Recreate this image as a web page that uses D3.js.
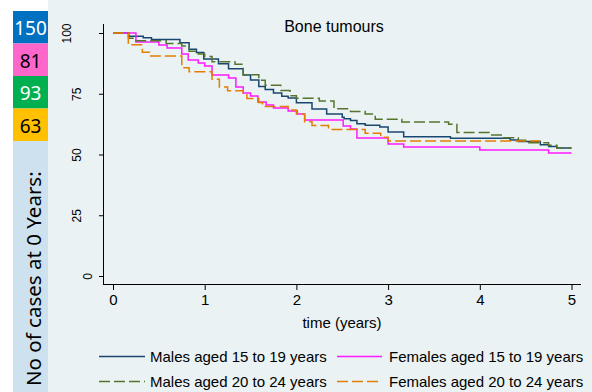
<!DOCTYPE html>
<html>
<head>
<meta charset="utf-8">
<script src="https://cdn.jsdelivr.net/npm/d3@7"></script>
<style>
  body { margin: 0; background: #fff; }
  svg { display: block; }
  text { font-family: "Liberation Sans", Arial, sans-serif; fill: #000; }
  .side { font-family: "Noto Sans", sans-serif; }
</style>
</head>
<body>
<div id="chart"></div>
<script>
// ** data (time in years, survival in %)
const maleYoungT = [0, 0.17, 0.33, 0.42, 0.73, 0.83, 0.91, 0.99, 1.15, 1.26, 1.42, 1.50, 1.59, 1.66, 1.75, 1.84, 1.91, 2.00, 2.17, 2.33, 2.50, 2.52, 2.59, 2.66, 2.75, 2.91, 3.00, 3.17, 3.68, 4.33, 4.42, 4.66, 4.75, 4.84, 5.00];
const maleYoungS = [100, 98.7, 98.0, 97.3, 96.0, 93.3, 92.0, 89.3, 87.3, 85.3, 82.7, 80.7, 78.0, 76.7, 75.3, 74.0, 73.3, 71.3, 68.7, 66.7, 65.3, 64.7, 64.0, 62.7, 62.0, 61.3, 59.3, 57.3, 56.7, 56.0, 55.3, 54.0, 53.3, 52.7, 52.7];

const femaleYoungT = [0, 0.25, 0.50, 0.59, 0.75, 0.82, 0.93, 1.00, 1.08, 1.26, 1.34, 1.42, 1.50, 1.58, 1.67, 1.75, 1.91, 2.01, 2.09, 2.51, 2.59, 2.66, 3.00, 3.17, 4.00, 4.75, 5.00];
const femaleYoungS = [100, 96.3, 95.1, 93.8, 91.4, 88.9, 87.7, 86.4, 82.7, 81.5, 77.8, 75.3, 74.1, 71.6, 70.4, 69.1, 67.9, 66.7, 64.2, 61.7, 60.5, 56.8, 54.3, 53.1, 51.9, 50.6, 50.6];

const maleOldT = [0, 0.17, 0.25, 0.58, 0.75, 0.83, 0.93, 1.00, 1.08, 1.33, 1.42, 1.59, 1.66, 1.83, 1.93, 2.00, 2.25, 2.41, 2.59, 2.75, 2.86, 3.15, 3.66, 3.75, 4.10, 4.26, 4.42, 4.50, 4.75, 4.84, 5.00];
const maleOldS = [100, 97.8, 96.8, 95.7, 94.6, 92.5, 91.4, 90.3, 88.2, 87.1, 82.8, 80.6, 78.5, 76.3, 74.2, 73.1, 72.0, 68.8, 67.7, 66.7, 64.5, 63.4, 62.4, 59.1, 58.0, 56.9, 55.9, 54.8, 53.8, 52.7, 52.7];

const femaleOldT = [0, 0.167, 0.32, 0.40, 0.75, 0.83, 1.08, 1.16, 1.25, 1.42, 1.46, 1.59, 1.63, 1.91, 2.00, 2.09, 2.17, 2.35, 2.75, 2.92, 3.00, 4.66];
const femaleOldS = [100, 95.2, 92.1, 90.5, 85.7, 84.1, 81.0, 77.8, 76.2, 74.6, 73.0, 71.4, 69.8, 68.3, 66.7, 63.5, 61.9, 60.3, 58.7, 57.1, 55.6, 55.6];

const seriesNames = ['Males aged 15 to 19 years', 'Females aged 15 to 19 years', 'Males aged 20 to 24 years', 'Females aged 20 to 24 years'];
const casesAtZero = [150, 81, 93, 63];
const xTicks = [0, 1, 2, 3, 4, 5];
const yTicks = [0, 25, 50, 75, 100];
const chartTitle = 'Bone tumours';
const xTitle = 'time (years)';
const sideTitle = 'No of cases at 0 Years:';

const W = 592, H = 392;
const svg = d3.select('#chart').append('svg').attr('width', W).attr('height', H);

//** backgrounds
svg.append('rect').attr('x', 48).attr('y', 0).attr('width', W - 48).attr('height', H).attr('fill', '#eaf2f3');
svg.append('rect').attr('x', 13).attr('y', 141).attr('width', 35).attr('height', H - 141).attr('fill', '#cde1ef');

//** left count boxes
const boxFill = ['#0070c0', '#ff66cc', '#00b050', '#ffc000'];
const boxText = ['#fff', '#000', '#fff', '#000'];
const boxY = d3.scaleBand().domain(d3.range(casesAtZero.length)).range([11, 141]);
casesAtZero.forEach((n, i) => {
  svg.append('rect')
    .attr('x', 13).attr('y', boxY(i))
    .attr('width', 35).attr('height', boxY.bandwidth())
    .attr('fill', boxFill[i]);
  svg.append('text')
    .attr('class', 'side')
    .attr('x', 30.5).attr('y', boxY(i) + boxY.bandwidth() / 2 + 8)
    .attr('text-anchor', 'middle')
    .style('font-size', '19px')
    .style('fill', boxText[i])
    .text(n);
});
svg.append('text')
  .attr('class', 'side')
  .attr('transform', 'translate(41,386) rotate(-90)')
  .style('font-size', '20.5px')
  .text(sideTitle);

//** scales
const x = d3.scaleLinear().domain([0, 5]).range([113, 571.5]);
const y = d3.scaleLinear().domain([0, 100]).range([276, 33]);

//** axes
const gx = svg.append('g').attr('transform', 'translate(0,285)')
  .call(d3.axisBottom(x).tickValues(xTicks).tickFormat(d3.format('d')).tickSize(5).tickSizeOuter(0).tickPadding(4));
gx.select('.domain').remove();
gx.selectAll('text').style('font-size', '15px').style('font-family', '"Liberation Sans", Arial, sans-serif').attr('fill', '#000');
svg.append('line').attr('x1', 103.5).attr('x2', 581).attr('y1', 284.5).attr('y2', 284.5).attr('stroke', '#000');

const gy = svg.append('g').attr('transform', 'translate(104,0)')
  .call(d3.axisLeft(y).tickValues(yTicks).tickFormat(d3.format('d')).tickSize(5).tickSizeOuter(0));
gy.select('.domain').remove();
// labels are vertical; shorter labels sit closer to the axis
gy.selectAll('text')
  .style('font-size', '12px')
  .style('font-family', '"Liberation Sans", Arial, sans-serif')
  .attr('fill', '#000')
  .attr('text-anchor', 'middle')
  .attr('x', 0).attr('y', 0)
  .attr('dy', '0.35em')
  .attr('transform', d => 'translate(' + (98 - 10.5 * String(d).length - 104) + ',0) rotate(-90)');
svg.append('line').attr('x1', 103.5).attr('x2', 103.5).attr('y1', 24).attr('y2', 285).attr('stroke', '#000');

//** titles
svg.append('text').attr('x', 334).attr('y', 32).attr('text-anchor', 'middle').style('font-size', '16px').text(chartTitle);
svg.append('text').attr('x', 342).attr('y', 328).attr('text-anchor', 'middle').style('font-size', '15px').text(xTitle);

//** curves
const series = [
  { t: maleYoungT, s: maleYoungS, color: '#1a476f', dash: null },
  { t: femaleYoungT, s: femaleYoungS, color: '#ff1aff', dash: null },
  { t: maleOldT, s: maleOldS, color: '#55752f', dash: '11,4' },
  { t: femaleOldT, s: femaleOldS, color: '#e37e00', dash: '11,4' }
];
const line = d3.line().x(d => x(d[0])).y(d => y(d[1])).curve(d3.curveStepAfter);
series.forEach(sr => {
  svg.append('path')
    .datum(sr.t.map((t, i) => [t, sr.s[i]]))
    .attr('d', line)
    .attr('fill', 'none')
    .attr('stroke', sr.color)
    .attr('stroke-width', 1.5)
    .attr('stroke-dasharray', sr.dash);
});

//** legend
const legX = [[99, 145, 150], [337, 382, 389]];
const legY = [356.5, 381.5];
series.forEach((sr, i) => {
  const col = i % 2, row = Math.floor(i / 2);
  svg.append('line')
    .attr('x1', legX[col][0]).attr('x2', legX[col][1])
    .attr('y1', legY[row]).attr('y2', legY[row])
    .attr('stroke', sr.color).attr('stroke-width', 1.5)
    .attr('stroke-dasharray', sr.dash);
  svg.append('text')
    .attr('x', legX[col][2]).attr('y', legY[row] + 5.5)
    .style('font-size', '15px')
    .text(seriesNames[i]);
});
</script>
</body>
</html>
